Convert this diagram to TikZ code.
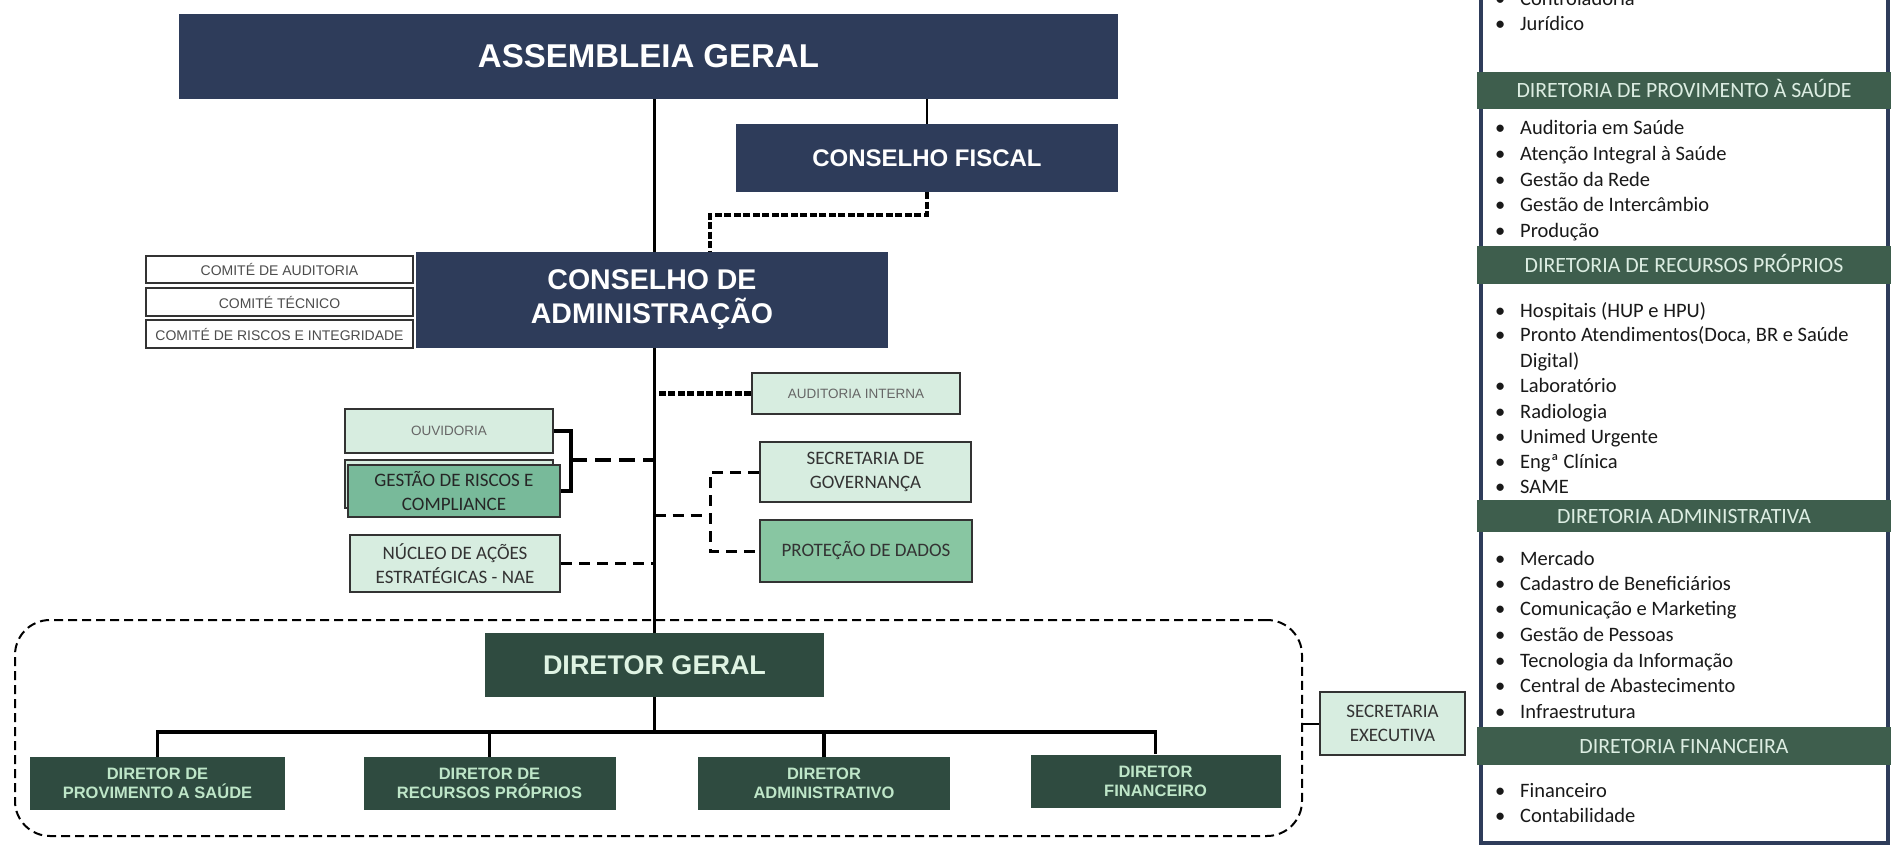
\documentclass[tikz,border=0pt]{standalone}
\usepackage{fontspec}
\setmainfont{Liberation Sans}
\newfontfamily\calfnt{Carlito}
\usetikzlibrary{calc,backgrounds}
\definecolor{navy}{HTML}{2E3C5A}
\definecolor{dkgreen}{HTML}{2F4B40}
\definecolor{hdgreen}{HTML}{3E5E4D}
\definecolor{ltgreen}{HTML}{D7EDE0}
\definecolor{midgreen}{HTML}{78BA9A}
\definecolor{protgreen}{HTML}{88C6A2}
\definecolor{dtext}{HTML}{BEE6C8}
\definecolor{paneltext}{HTML}{DCEDE2}
\newcommand{\fs}[2]{\fontsize{#1}{#2}\selectfont}
\newcommand{\pbul}{\makebox[25pt][l]{•}}
\tikzset{
 navybox/.style={fill=navy, text=white, inner sep=0pt, align=center},
 greenbox/.style={fill=dkgreen, text=dtext, inner sep=0pt, align=center, font=\fs{16.5}{19}\bfseries},
 combox/.style={draw=black!80, line width=1.5pt, fill=white, text=black!70, inner sep=0pt, font=\fs{14}{16}},
 ltbox/.style={draw=black!80, line width=2pt, fill=ltgreen, text=black!80, inner sep=0pt, align=center, font=\calfnt\fs{19}{24}},
 mainline/.style={line width=3pt, black},
 densedash/.style={line width=4.5pt, dash pattern=on 7pt off 2.5pt},
 thickdash/.style={line width=4.5pt, dash pattern=on 16pt off 8pt},
 thindash/.style={line width=3pt, dash pattern=on 11pt off 7pt},
 hdr/.style={fill=hdgreen, text=paneltext, inner sep=0pt, font=\calfnt\fs{21.8}{25}, text height=14pt, text depth=0pt, minimum width=414pt},
 pitem/.style={anchor=base west, inner sep=0pt, text=black!90, font=\calfnt\fs{20.5}{25}},
}
\begin{document}
\begin{tikzpicture}[x=1pt,y=-1pt]
\useasboundingbox (0,0) rectangle (1900,846);

% main boxes
\node[navybox, minimum width=939pt, minimum height=85pt, font=\fs{33}{38}\bfseries] (asm) at (648.5,56.5) {ASSEMBLEIA GERAL};
\node[navybox, minimum width=382pt, minimum height=68pt, font=\fs{24}{28}\bfseries] (fis) at (927,158) {CONSELHO FISCAL};
\node[navybox, minimum width=472pt, minimum height=96pt, font=\fs{28.5}{34}\bfseries] (adm) at (652,300) {CONSELHO DE\\ADMINISTRAÇÃO};

% committees
\node[combox, minimum width=267pt, minimum height=27pt] (c1) at (279.5,269.5) {COMITÉ DE AUDITORIA};
\node[combox, minimum width=267pt, minimum height=28pt] (c2) at (279.5,302) {COMITÉ TÉCNICO};
\node[combox, minimum width=267pt, minimum height=28pt] (c3) at (279.5,334) {COMITÉ DE RISCOS E INTEGRIDADE};

% staff boxes
\node[ltbox, minimum width=208pt, minimum height=41pt, font=\fs{13.5}{16}, text=black!60] (aud) at (856,393.5) {AUDITORIA INTERNA};
\node[ltbox, minimum width=208pt, minimum height=44pt, font=\fs{13.5}{16}, text=black!60] (ouv) at (449,431) {OUVIDORIA};
\node[ltbox, minimum width=208pt, minimum height=48pt] (gesb) at (449,484) {};
\node[ltbox, fill=midgreen, minimum width=212pt, minimum height=52pt, text=black!85] (ges) at (454,491) {GESTÃO DE RISCOS E\\COMPLIANCE};
\node[ltbox, minimum width=210pt, minimum height=57pt] (nae) at (455,563.5) {NÚCLEO DE AÇÕES\\ESTRATÉGICAS - NAE};
\node[ltbox, minimum width=211pt, minimum height=60pt] (sgov) at (865.5,472) {SECRETARIA DE\\GOVERNANÇA};
\node[ltbox, fill=protgreen, minimum width=212pt, minimum height=62pt] (prot) at (866,551) {PROTEÇÃO DE DADOS};

% directors
\node[greenbox, minimum width=339pt, minimum height=64pt, font=\fs{27}{30}\bfseries, text=dtext!50!white] (dg) at (654.5,665) {DIRETOR GERAL};
\node[greenbox, minimum width=255pt, minimum height=53pt] (d1) at (157.5,783.5) {DIRETOR DE\\PROVIMENTO A SAÚDE};
\node[greenbox, minimum width=252pt, minimum height=53pt] (d2) at (489.5,783.5) {DIRETOR DE\\RECURSOS PRÓPRIOS};
\node[greenbox, minimum width=252pt, minimum height=53pt] (d3) at (824,783.5) {DIRETOR\\ADMINISTRATIVO};
\node[greenbox, minimum width=250pt, minimum height=53pt] (d4) at (1155.5,781) {DIRETOR\\FINANCEIRO};
\node[ltbox, minimum width=145pt, minimum height=63pt] (sex) at (1392.5,723.5) {SECRETARIA\\EXECUTIVA};
\node[draw, line width=2pt, dash pattern=on 9pt off 5pt, rounded corners=35pt, minimum width=1287pt, minimum height=216pt] (grp) at (658.5,728) {};

% connectors
\begin{pgfonlayer}{background}
\fill[white] (0,0) rectangle (1900,846);
\draw[mainline] (dg.north |- asm.south) -- (dg.north);
\draw[line width=2.5pt] (fis.north) -- (fis.north |- asm.south);
\coordinate (fk) at (710,215);
\draw[densedash] (fis.south) |- (fk) -- (fk |- adm.north);
\draw[densedash] (aud.west) -- (aud.west -| dg.north);
\coordinate (brk) at (571,460);
\draw[line width=4pt] (ouv.east) -| (brk) |- (ges.east);
\draw[thickdash] (brk) -- (brk -| dg.north);
\draw[thindash] (nae.east) -- (nae.east -| dg.north);
\coordinate (gb) at (710,515);
\draw[thindash] (gb -| dg.north) -- (gb);
\draw[thindash] (sgov.west) -- (sgov.west -| gb) -- (prot.west -| gb) -- (prot.west);
\coordinate (bar) at (654.5,732);
\draw[line width=3.5pt] (d1.north) |- (bar -| d4.north) -- (d4.north);
\draw[line width=3.5pt] (d2.north) -- (d2.north |- bar);
\draw[line width=3.5pt] (d3.north) -- (d3.north |- bar);
\draw[mainline] (dg.south) -- (dg.south |- bar);
\draw[line width=2pt] (grp.east |- sex.west) -- (sex.west);
\end{pgfonlayer}

% right panel
\begin{scope}
\clip (1474,0) rectangle (1892,846);
\fill[white] (1480,-10) rectangle (1888,843);
\draw[navy, line width=4pt] (1481,-10) rectangle (1888,843);
\node[hdr, minimum height=37pt] (h1) at (1684,90.5) {DIRETORIA DE PROVIMENTO À SAÚDE};
\node[hdr, minimum height=38pt] (h2) at (1684,265) {DIRETORIA DE RECURSOS PRÓPRIOS};
\node[hdr, minimum height=32pt] (h3) at (1684,516) {DIRETORIA ADMINISTRATIVA};
\node[hdr, minimum height=38pt] (h4) at (1684,746) {DIRETORIA FINANCEIRA};
\node[pitem] (t0) at (1495,5) {\pbul Controladoria};
\node[pitem] (t1) at (1495,30) {\pbul Jurídico};
\node[pitem] (a1) at (1495,134) {\pbul Auditoria em Saúde};
\node[pitem] (a2) at (1495,160) {\pbul Atenção Integral à Saúde};
\node[pitem] (a3) at (1495,186) {\pbul Gestão da Rede};
\node[pitem] (a4) at (1495,211) {\pbul Gestão de Intercâmbio};
\node[pitem] (a5) at (1495,237) {\pbul Produção};
\node[pitem] (b1) at (1495,317) {\pbul Hospitais (HUP e HPU)};
\node[pitem] (b2) at (1495,341) {\pbul Pronto Atendimentos(Doca, BR e Saúde};
\node[pitem] (b2b) at (1520,367) {Digital)};
\node[pitem] (b3) at (1495,392) {\pbul Laboratório};
\node[pitem] (b4) at (1495,418) {\pbul Radiologia};
\node[pitem] (b5) at (1495,443) {\pbul Unimed Urgente};
\node[pitem] (b6) at (1495,468) {\pbul Engª Clínica};
\node[pitem] (b7) at (1495,493) {\pbul SAME};
\node[pitem] (e1) at (1495,565) {\pbul Mercado};
\node[pitem] (e2) at (1495,590) {\pbul Cadastro de Beneficiários};
\node[pitem] (e3) at (1495,615) {\pbul Comunicação e Marketing};
\node[pitem] (e4) at (1495,641) {\pbul Gestão de Pessoas};
\node[pitem] (e5) at (1495,667) {\pbul Tecnologia da Informação};
\node[pitem] (e6) at (1495,692) {\pbul Central de Abastecimento};
\node[pitem] (e7) at (1495,718) {\pbul Infraestrutura};
\node[pitem] (f1) at (1495,797) {\pbul Financeiro};
\node[pitem] (f2) at (1495,822) {\pbul Contabilidade};
\end{scope}
\end{tikzpicture}
\end{document}
